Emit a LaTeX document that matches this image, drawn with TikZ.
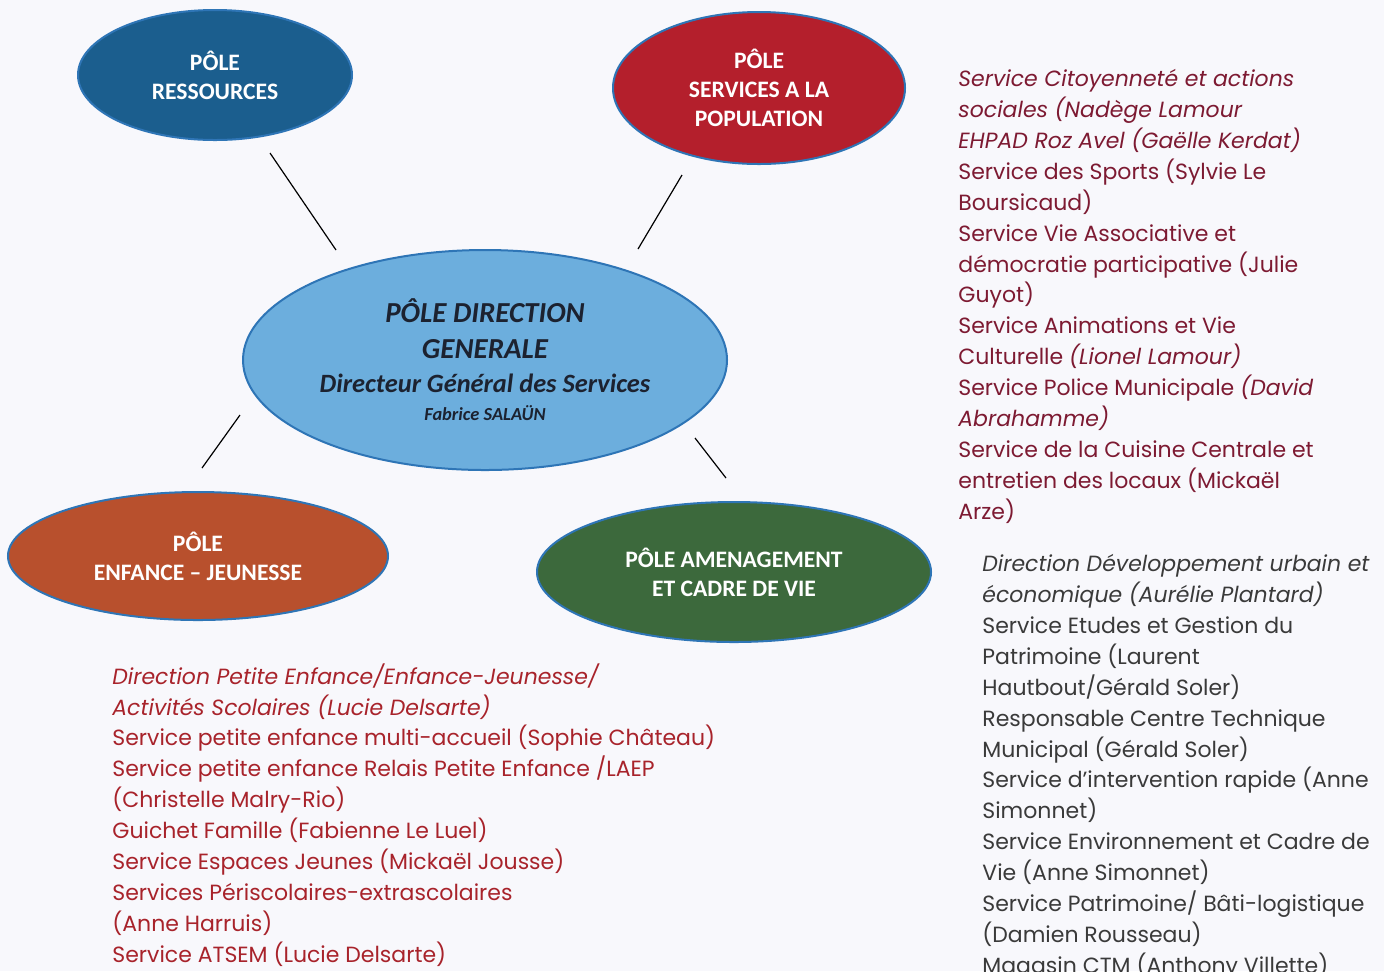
\documentclass[tikz,border=0pt]{standalone}
\usepackage{fontspec}
\setmainfont{Poppins}
\newfontfamily\polefont{Carlito}
\usetikzlibrary{shapes.geometric}

\definecolor{fond}{HTML}{F8F8FC}
\definecolor{bordure}{HTML}{2E75B6}
\definecolor{ressources}{HTML}{1B5E8E}
\definecolor{population}{HTML}{B41F2C}
\definecolor{direction}{HTML}{6CAEDD}
\definecolor{enfance}{HTML}{B8502D}
\definecolor{amenagement}{HTML}{3C693C}
\definecolor{rougeliste}{HTML}{A8232B}
\definecolor{bordeaux}{HTML}{7D1A32}
\definecolor{grisliste}{HTML}{3A3A3A}
\definecolor{textedir}{HTML}{1C2230}

\tikzset{
  pole/.style={ellipse, draw=bordure, line width=1pt, inner sep=0pt, align=center,
    text=white, font=\polefont\bfseries\fontsize{11.8}{14.5}\selectfont},
  liste/.style={anchor=north west, inner sep=0pt, align=left,
    font=\fontsize{11}{15.45}\selectfont},
  lien/.style={draw=black, line width=0.6pt}
}

\begin{document}
\begin{tikzpicture}[x=0.5pt,y=-0.5pt]
    \fill[fond] (0,0) rectangle (1384,971);
    \useasboundingbox (0,0) rectangle (1384,971);
    \clip (0,0) rectangle (1384,971);

    \node[pole, fill=ressources, minimum width=137pt, minimum height=65pt] (res) at (215,75) {PÔLE\\RESSOURCES};
    \node[pole, fill=population, minimum width=146pt, minimum height=76pt] (pop) at (759,88) {PÔLE\\SERVICES A LA\\POPULATION};
    \node[pole, fill=direction, minimum width=242pt, minimum height=110pt, text=textedir, font=\polefont\bfseries\itshape] (dir) at (485,360)
      {\fontsize{14.5}{18}\selectfont PÔLE DIRECTION\\[6pt]\fontsize{14.5}{17}\selectfont GENERALE\\[5pt]\fontsize{13.2}{14}\selectfont Directeur Général des Services\\[2pt]\fontsize{9.2}{10}\selectfont Fabrice SALAÜN};
    \node[pole, fill=enfance, minimum width=190pt, minimum height=64pt] (enf) at (198,556) {PÔLE\\ENFANCE – JEUNESSE};
    \node[pole, fill=amenagement, minimum width=197pt, minimum height=70pt] (ame) at (734,572) {PÔLE AMENAGEMENT\\ET CADRE DE VIE};

    \coordinate (res-a) at (270,153);
    \coordinate (res-b) at (336,250);
    \coordinate (pop-a) at (682,175);
    \coordinate (pop-b) at (638,249);
    \coordinate (enf-a) at (240,415);
    \coordinate (enf-b) at (202,468);
    \coordinate (ame-a) at (695,438);
    \coordinate (ame-b) at (726,478);
    \draw[lien] (res-a) -- (res-b);
    \draw[lien] (pop-a) -- (pop-b);
    \draw[lien] (enf-a) -- (enf-b);
    \draw[lien] (ame-a) -- (ame-b);

    \node[liste, text=bordeaux] (liste-pop) at (958,69) {\itshape Service Citoyenneté et actions\\
      \itshape sociales (Nadège Lamour\\
      \itshape EHPAD Roz Avel (Gaëlle Kerdat)\\
      Service des Sports (Sylvie Le\\
      Boursicaud)\\
      Service Vie Associative et\\
      démocratie participative (Julie\\
      Guyot)\\
      Service Animations et Vie\\
      Culturelle {\itshape (Lionel Lamour)}\\
      Service Police Municipale {\itshape (David}\\
      \itshape Abrahamme)\\
      Service de la Cuisine Centrale et\\
      entretien des locaux (Mickaël\\
      Arze)};

    \node[liste, text=grisliste] (liste-ame) at (982,554) {\itshape Direction Développement urbain et\\
      \itshape économique (Aurélie Plantard)\\
      Service Etudes et Gestion du\\
      Patrimoine (Laurent\\
      Hautbout/Gérald Soler)\\
      Responsable Centre Technique\\
      Municipal (Gérald Soler)\\
      Service d’intervention rapide (Anne\\
      Simonnet)\\
      Service Environnement et Cadre de\\
      Vie (Anne Simonnet)\\
      Service Patrimoine/ Bâti-logistique\\
      (Damien Rousseau)\\
      Magasin CTM (Anthony Villette)};

    \node[liste, text=rougeliste] (liste-enf) at (112,663) {\itshape Direction Petite Enfance/Enfance-Jeunesse/\\
      \itshape Activités Scolaires (Lucie Delsarte)\\
      Service petite enfance multi-accueil (Sophie Château)\\
      Service petite enfance Relais Petite Enfance /LAEP\\
      (Christelle Malry-Rio)\\
      Guichet Famille (Fabienne Le Luel)\\
      Service Espaces Jeunes (Mickaël Jousse)\\
      Services Périscolaires-extrascolaires\\
      (Anne Harruis)\\
      Service ATSEM (Lucie Delsarte)};

\end{tikzpicture}
\end{document}
